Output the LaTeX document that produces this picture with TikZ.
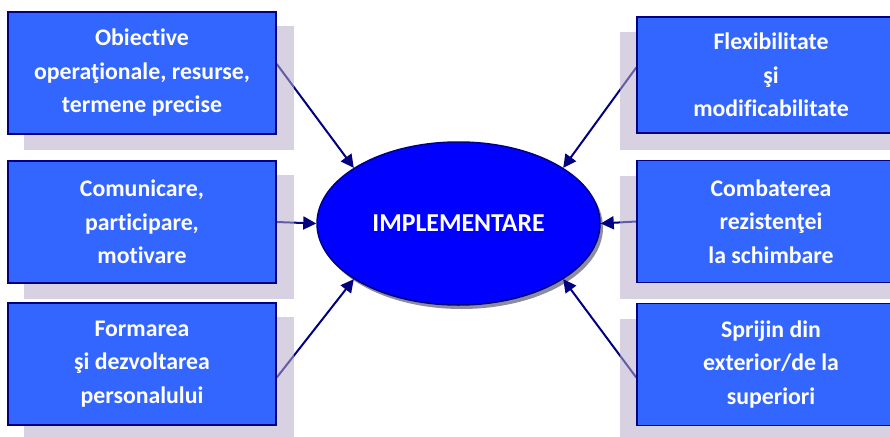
\documentclass[tikz,border=0pt]{standalone}
\usepackage{fontspec}
\setmainfont{Carlito}[Ligatures=NoCommon]
\usetikzlibrary{shapes.geometric,arrows.meta}
\definecolor{boxblue}{RGB}{51,102,255}
\definecolor{navyline}{RGB}{0,0,128}
\definecolor{ellblue}{RGB}{0,0,255}
\definecolor{shc}{RGB}{182,171,200}
\definecolor{esh}{RGB}{140,140,160}
\pgfdeclarelayer{background}
\pgfsetlayers{background,main}
\tikzset{
  box/.style={rectangle, draw=navyline, line width=1.5pt, fill=boxblue,
    minimum width=268pt, minimum height=122pt, inner sep=0pt, align=center,
    text=white, font=\fontsize{23.8}{33.5}\selectfont\bfseries},
  core/.style={ellipse, draw=navyline, line width=1.5pt, fill=ellblue,
    minimum width=283pt, minimum height=163pt, inner sep=0pt,
    text=white, font=\fontsize{25.8}{30}\selectfont\bfseries},
  conn/.style={draw=navyline, line width=2pt, -{Triangle[length=13pt,width=13pt]}},
  boxshadow/.style={fill=shc, opacity=0.55},
}
\begin{document}
\begin{tikzpicture}[x=1pt,y=-1pt]
\useasboundingbox (0,0) rectangle (890,436);
\node[box] (l1) at (142,73) {Obiective\\operaţionale, resurse,\\termene precise};
\node[box] (l2) at (142,222) {Comunicare,\\participare,\\motivare};
\node[box] (l3) at (142,364) {Formarea\\şi dezvoltarea\\personalului};
\node[box, minimum height=116pt] (r1) at (771,75) {Flexibilitate\\şi\\modificabilitate};
\node[box] (r2) at (771,221.5) {Combaterea\\rezistenţei\\la schimbare};
\node[box] (r3) at (771,364.5) {Sprijin din\\exterior/de la\\superiori};
\node[core] (e) at (458.5,223.5) {IMPLEMENTARE};
\begin{pgfonlayer}{background}
  \fill[esh] ([shift={(3,4)}]e.center) ellipse [x radius=141.5pt, y radius=81.5pt];
  \draw[conn] ([yshift=9pt]l1.east) -- (e.152);
  \draw[conn] (l2.east) -- (e.180);
  \draw[conn] ([yshift=-13.5pt]l3.east) -- (e.208);
  \draw[conn] ([yshift=7.5pt]r1.west) -- (e.28);
  \draw[conn] (r2.west) -- (e.0);
  \draw[conn] ([yshift=-13pt]r3.west) -- (e.-28);
  \foreach \n in {l1,l2,l3}
    \fill[boxshadow] ([shift={(17,15)}]\n.north west) rectangle ([shift={(17,15)}]\n.south east);
  \foreach \n in {r1,r2,r3}
    \fill[boxshadow] ([shift={(-16,16)}]\n.north west) rectangle ([shift={(-16,16)}]\n.south east);
\end{pgfonlayer}
\end{tikzpicture}
\end{document}
